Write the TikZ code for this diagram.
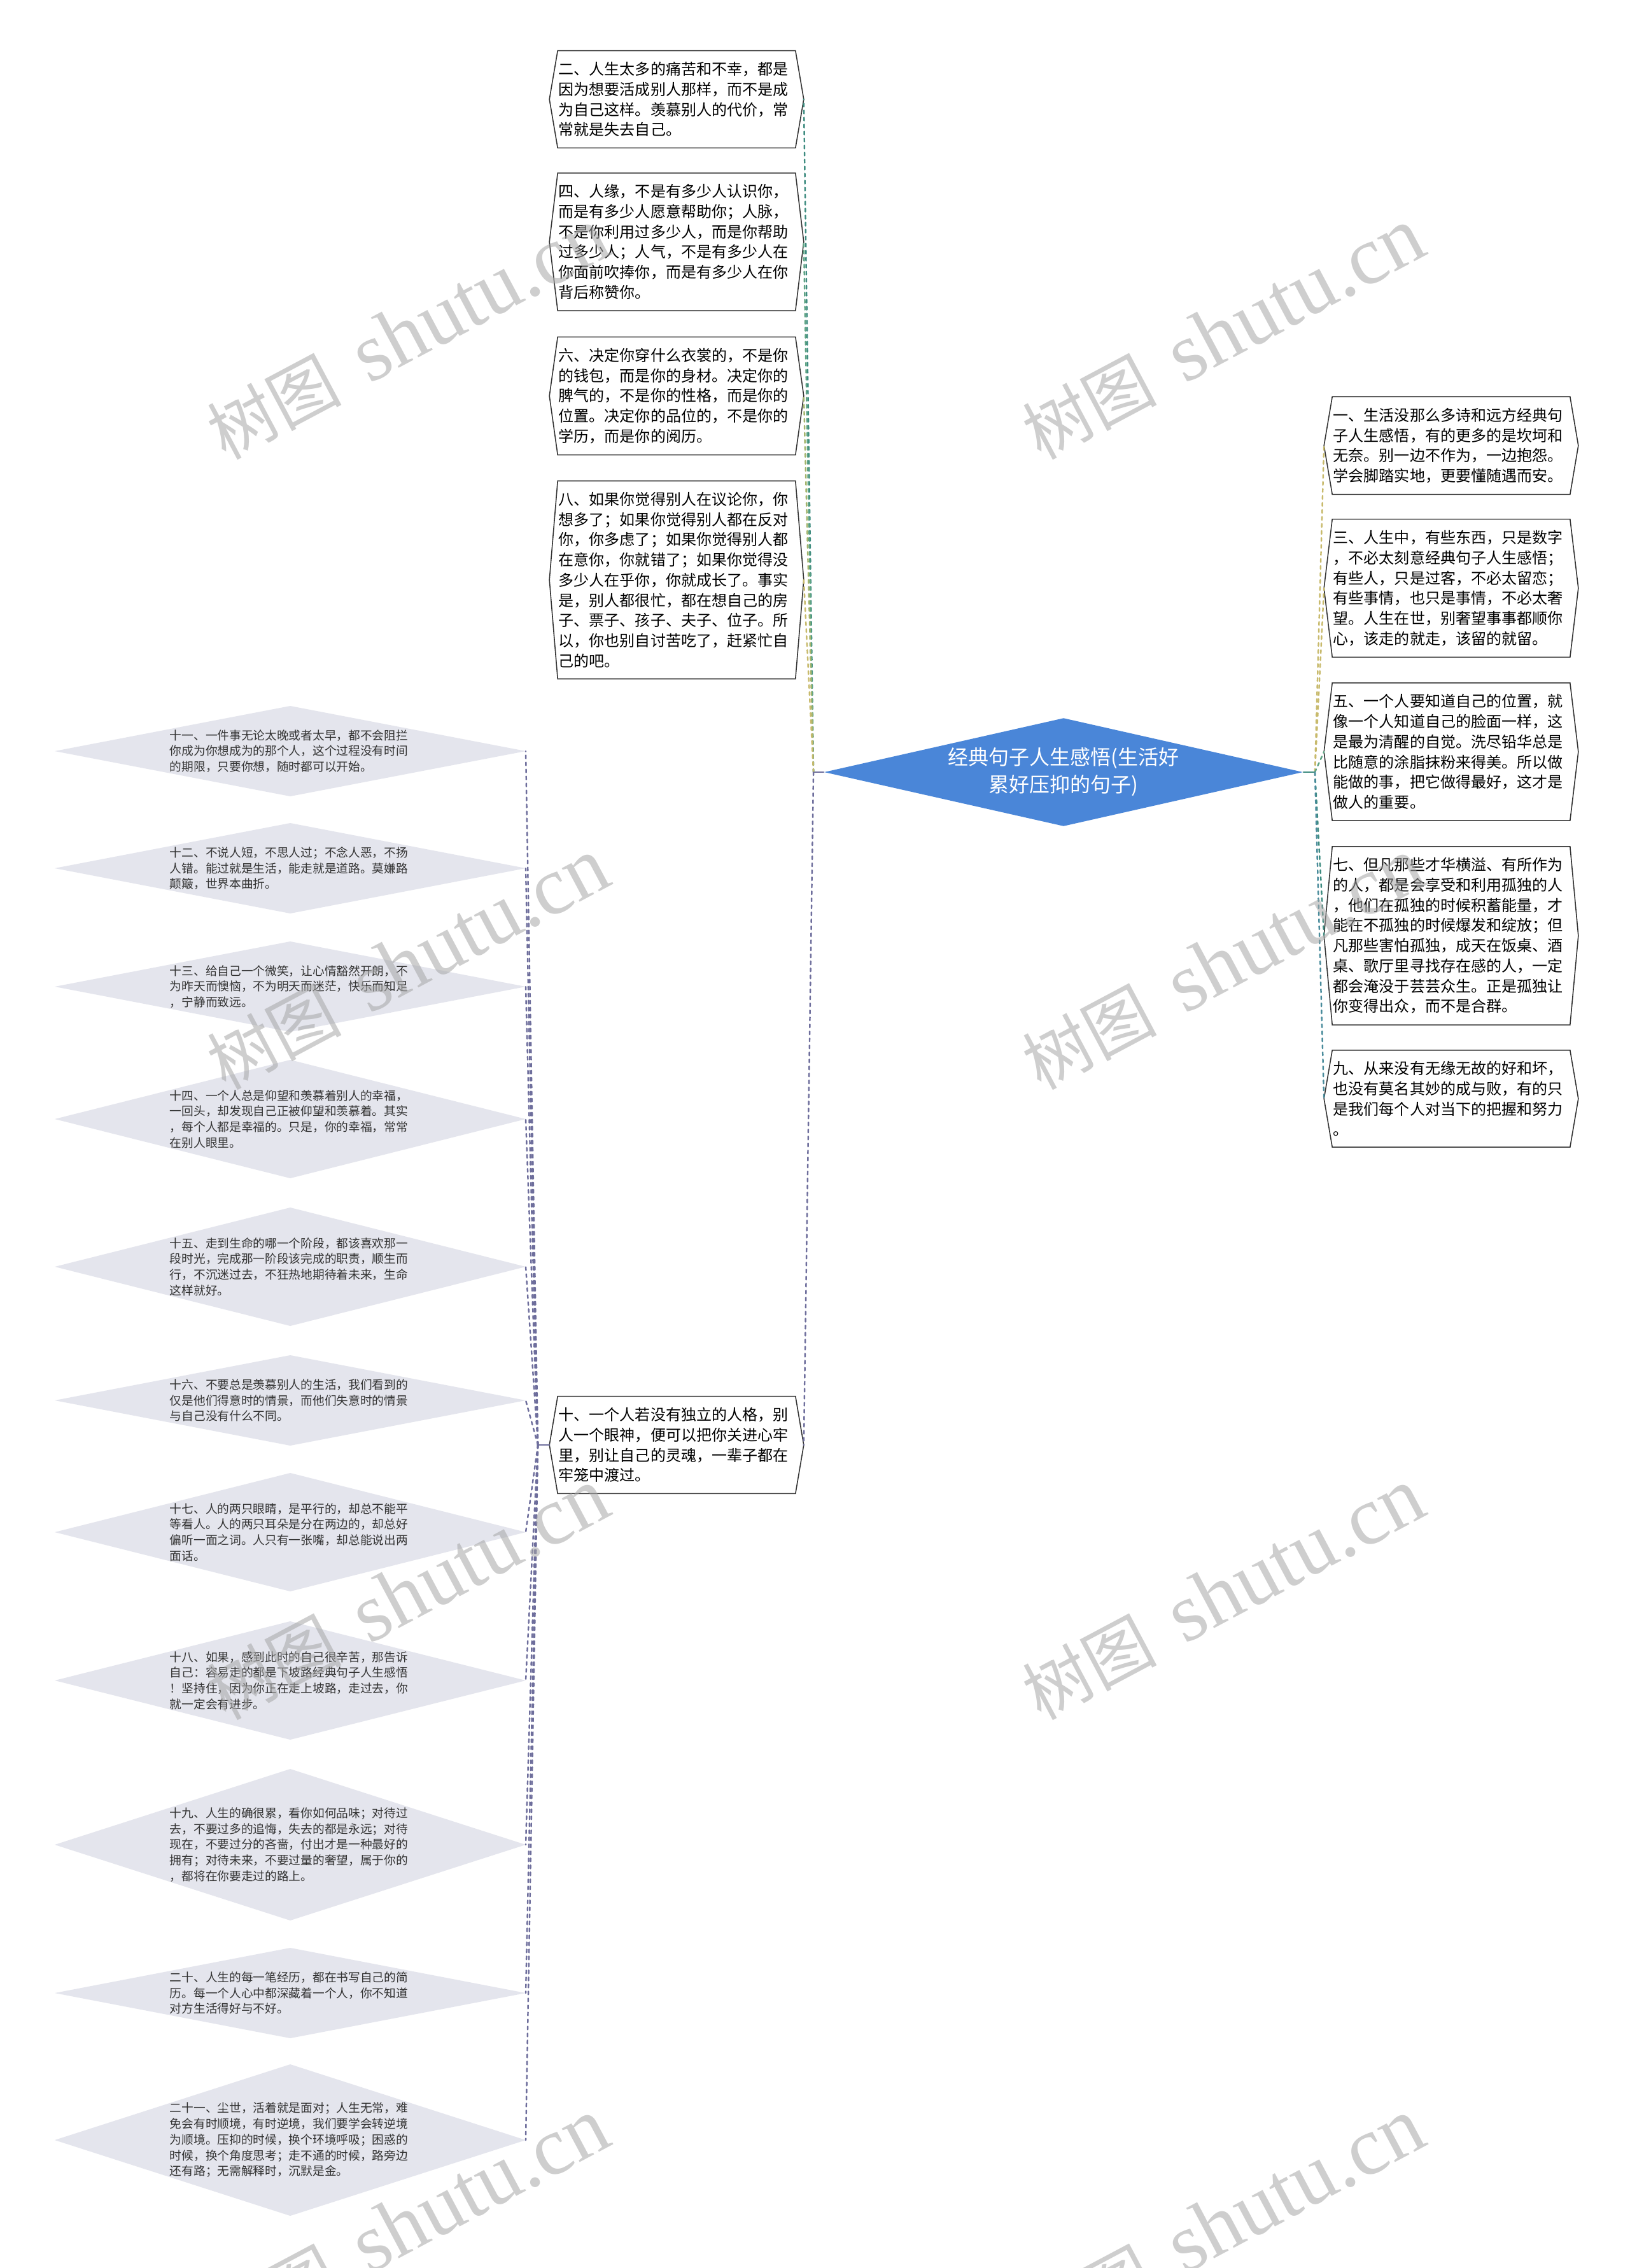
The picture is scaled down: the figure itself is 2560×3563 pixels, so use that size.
\documentclass[tikz,border=0pt]{standalone}
\usepackage{fontspec}
\setmainfont{Noto Sans CJK SC}
\newfontfamily\markserif{Liberation Serif}
\usepackage{tikz}
\usetikzlibrary{calc,shapes.geometric,backgrounds}
\usepackage{xcolor}

\definecolor{rootblue}{HTML}{4A86D8}
\definecolor{leafgray}{HTML}{E4E5ED}
\definecolor{cardedge}{HTML}{333333}
\definecolor{leafink}{HTML}{333333}
\definecolor{lnkpurple}{HTML}{6E6E9C}
\definecolor{lnkteal}{HTML}{3E8C80}
\definecolor{lnkgreen}{HTML}{5FA484}
\definecolor{lnklime}{HTML}{A4B46C}
\definecolor{lnkolive}{HTML}{C8BA6C}
\definecolor{lnkblue}{HTML}{4A8C9C}

\newcommand{\cardshape}[1]{%
  \coordinate (#1-l) at ([xshift=-0.13cm]#1.west);
  \coordinate (#1-r) at ([xshift=0.13cm]#1.east);
  \begin{pgfonlayer}{background}
    \filldraw[cardline] (#1.north west) -- (#1.north east) -- (#1-r) -- (#1.south east) -- (#1.south west) -- (#1-l) -- cycle;
  \end{pgfonlayer}}

\newcommand{\leafshape}[2]{%
  \coordinate (#1-l) at (#1.center -| leafleft);
  \coordinate (#1-r) at (#1.center -| leafright);
  \begin{pgfonlayer}{background}
    \fill[leafgray] (#1-l) -- ($(#1.center)+(0,-#2)$) -- (#1-r) -- ($(#1.center)+(0,#2)$) -- cycle;
  \end{pgfonlayer}}

\newcommand{\shutumark}{{\fontsize{30pt}{30pt}\selectfont 树图}\hspace{0.45cm}{\markserif\fontsize{37pt}{37pt}\selectfont shutu.cn}}

\begin{document}
\begin{tikzpicture}[x=0.01cm,y=-0.01cm,line cap=round,
  rootdia/.style={diamond,fill=rootblue,text=white,align=center,inner sep=0pt,aspect=4.4,
    minimum width=7.52cm,minimum height=1.7cm,font=\fontsize{9.1pt}{12.2pt}\selectfont},
  cardbox/.style={text width=3.70cm,align=left,inner xsep=0.01cm,inner ysep=0.17cm,
    font=\fontsize{6.83pt}{9.02pt}\selectfont},
  cardline/.style={draw=cardedge,fill=white,line width=0.45pt},
  leafbox/.style={text width=3.78cm,align=left,inner sep=0pt,text=leafink,
    font=\fontsize{5.32pt}{7.03pt}\selectfont},
  dashlink/.style={dash pattern=on 0.05cm off 0.06cm,line width=0.7pt},
  stub/.style={line width=0.7pt},
  wmark/.style={rotate=28,text=gray!70,text opacity=0.55,inner sep=0pt}]
\begin{pgfonlayer}{background}
\fill[white] (0,0) rectangle (2560,3563);
\end{pgfonlayer}
\useasboundingbox (0,0) rectangle (2560,3563);
\coordinate (leafleft) at (86,0);
\coordinate (leafright) at (826,0);

\node[rootdia] (root) at (1671,1213) {经典句子人生感悟(生活好\\累好压抑的句子)};

% left column
\node[cardbox] (c2) at (1063,156) {二、人生太多的痛苦和不幸，都是\\因为想要活成别人那样，而不是成\\为自己这样。羡慕别人的代价，常\\常就是失去自己。};
\cardshape{c2}
\node[cardbox] (c4) at (1063,380) {四、人缘，不是有多少人认识你，\\而是有多少人愿意帮助你；人脉，\\不是你利用过多少人，而是你帮助\\过多少人；人气，不是有多少人在\\你面前吹捧你，而是有多少人在你\\背后称赞你。};
\cardshape{c4}
\node[cardbox] (c6) at (1063,622) {六、决定你穿什么衣裳的，不是你\\的钱包，而是你的身材。决定你的\\脾气的，不是你的性格，而是你的\\位置。决定你的品位的，不是你的\\学历，而是你的阅历。};
\cardshape{c6}
\node[cardbox] (c8) at (1063,911) {八、如果你觉得别人在议论你，你\\想多了；如果你觉得别人都在反对\\你，你多虑了；如果你觉得别人都\\在意你，你就错了；如果你觉得没\\多少人在乎你，你就成长了。事实\\是，别人都很忙，都在想自己的房\\子、票子、孩子、夫子、位子。所\\以，你也别自讨苦吃了，赶紧忙自\\己的吧。};
\cardshape{c8}
\node[cardbox] (c10) at (1063,2270) {十、一个人若没有独立的人格，别\\人一个眼神，便可以把你关进心牢\\里，别让自己的灵魂，一辈子都在\\牢笼中渡过。};
\cardshape{c10}

% right column
\node[cardbox] (c1) at (2280,700) {一、生活没那么多诗和远方经典句\\子人生感悟，有的更多的是坎坷和\\无奈。别一边不作为，一边抱怨。\\学会脚踏实地，更要懂随遇而安。};
\cardshape{c1}
\node[cardbox] (c3) at (2280,924) {三、人生中，有些东西，只是数字\\，不必太刻意经典句子人生感悟；\\有些人，只是过客，不必太留恋；\\有些事情，也只是事情，不必太奢\\望。人生在世，别奢望事事都顺你\\心，该走的就走，该留的就留。};
\cardshape{c3}
\node[cardbox] (c5) at (2280,1181) {五、一个人要知道自己的位置，就\\像一个人知道自己的脸面一样，这\\是最为清醒的自觉。洗尽铅华总是\\比随意的涂脂抹粉来得美。所以做\\能做的事，把它做得最好，这才是\\做人的重要。};
\cardshape{c5}
\node[cardbox] (c7) at (2280,1470) {七、但凡那些才华横溢、有所作为\\的人，都是会享受和利用孤独的人\\，他们在孤独的时候积蓄能量，才\\能在不孤独的时候爆发和绽放；但\\凡那些害怕孤独，成天在饭桌、酒\\桌、歌厅里寻找存在感的人，一定\\都会淹没于芸芸众生。正是孤独让\\你变得出众，而不是合群。};
\cardshape{c7}
\node[cardbox] (c9) at (2280,1726) {九、从来没有无缘无故的好和坏，\\也没有莫名其妙的成与败，有的只\\是我们每个人对当下的把握和努力\\。};
\cardshape{c9}

% leaves under ten
\node[leafbox] (l11) at (456,1180) {十一、一件事无论太晚或者太早，都不会阻拦\\你成为你想成为的那个人，这个过程没有时间\\的期限，只要你想，随时都可以开始。};
\leafshape{l11}{71}
\node[leafbox] (l12) at (456,1364) {十二、不说人短，不思人过；不念人恶，不扬\\人错。能过就是生活，能走就是道路。莫嫌路\\颠簸，世界本曲折。};
\leafshape{l12}{71}
\node[leafbox] (l13) at (456,1550) {十三、给自己一个微笑，让心情豁然开朗，不\\为昨天而懊恼，不为明天而迷茫，快乐而知足\\，宁静而致远。};
\leafshape{l13}{71}
\node[leafbox] (l14) at (456,1758) {十四、一个人总是仰望和羡慕着别人的幸福，\\一回头，却发现自己正被仰望和羡慕着。其实\\，每个人都是幸福的。只是，你的幸福，常常\\在别人眼里。};
\leafshape{l14}{93}
\node[leafbox] (l15) at (456,1990) {十五、走到生命的哪一个阶段，都该喜欢那一\\段时光，完成那一阶段该完成的职责，顺生而\\行，不沉迷过去，不狂热地期待着未来，生命\\这样就好。};
\leafshape{l15}{93}
\node[leafbox] (l16) at (456,2200) {十六、不要总是羡慕别人的生活，我们看到的\\仅是他们得意时的情景，而他们失意时的情景\\与自己没有什么不同。};
\leafshape{l16}{71}
\node[leafbox] (l17) at (456,2407) {十七、人的两只眼睛，是平行的，却总不能平\\等看人。人的两只耳朵是分在两边的，却总好\\偏听一面之词。人只有一张嘴，却总能说出两\\面话。};
\leafshape{l17}{93}
\node[leafbox] (l18) at (456,2640) {十八、如果，感到此时的自己很辛苦，那告诉\\自己：容易走的都是下坡路经典句子人生感悟\\！坚持住，因为你正在走上坡路，走过去，你\\就一定会有进步。};
\leafshape{l18}{93}
\node[leafbox] (l19) at (456,2898) {十九、人生的确很累，看你如何品味；对待过\\去，不要过多的追悔，失去的都是永远；对待\\现在，不要过分的吝啬，付出才是一种最好的\\拥有；对待未来，不要过量的奢望，属于你的\\，都将在你要走过的路上。};
\leafshape{l19}{119}
\node[leafbox] (l20) at (456,3131) {二十、人生的每一笔经历，都在书写自己的简\\历。每一个人心中都深藏着一个人，你不知道\\对方生活得好与不好。};
\leafshape{l20}{71}
\node[leafbox] (l21) at (456,3362) {二十一、尘世，活着就是面对；人生无常，难\\免会有时顺境，有时逆境，我们要学会转逆境\\为顺境。压抑的时候，换个环境呼吸；困惑的\\时候，换个角度思考；走不通的时候，路旁边\\还有路；无需解释时，沉默是金。};
\leafshape{l21}{119}

% connectors
\coordinate (rootL) at ([xshift=-0.16cm]root.west);
\coordinate (rootR) at ([xshift=0.18cm]root.east);
\coordinate (tenL) at ([xshift=-0.18cm]c10-l);
\draw[stub,lnkpurple] (root.west) -- (rootL);
\draw[dashlink,lnkteal] (rootL) -- (c2-r);
\draw[dashlink,lnkgreen] (rootL) -- (c4-r);
\draw[dashlink,lnklime] (rootL) -- (c6-r);
\draw[dashlink,lnkolive] (rootL) -- (c8-r);
\draw[dashlink,lnkpurple] (rootL) -- (c10-r);
\draw[stub,lnkteal] (root.east) -- (rootR);
\draw[dashlink,lnkolive] (rootR) -- (c1-l);
\draw[dashlink,lnkolive] (rootR) -- (c3-l);
\draw[dashlink,lnkgreen] (rootR) -- (c5-l);
\draw[dashlink,lnkteal] (rootR) -- (c7-l);
\draw[dashlink,lnkblue] (rootR) -- (c9-l);
\draw[stub,lnkpurple] (c10-l) -- (tenL);
\draw[dashlink,lnkpurple] (tenL) -- (l11-r);
\draw[dashlink,lnkpurple] (tenL) -- (l12-r);
\draw[dashlink,lnkpurple] (tenL) -- (l13-r);
\draw[dashlink,lnkpurple] (tenL) -- (l14-r);
\draw[dashlink,lnkpurple] (tenL) -- (l15-r);
\draw[dashlink,lnkpurple] (tenL) -- (l16-r);
\draw[dashlink,lnkpurple] (tenL) -- (l17-r);
\draw[dashlink,lnkpurple] (tenL) -- (l18-r);
\draw[dashlink,lnkpurple] (tenL) -- (l19-r);
\draw[dashlink,lnkpurple] (tenL) -- (l20-r);
\draw[dashlink,lnkpurple] (tenL) -- (l21-r);

% watermark
\node[wmark] (wm1) at (641,525) {\shutumark};
\node[wmark] (wm2) at (1922,525) {\shutumark};
\node[wmark] (wm3) at (641,1515) {\shutumark};
\node[wmark] (wm4) at (1922,1515) {\shutumark};
\node[wmark] (wm5) at (641,2505) {\shutumark};
\node[wmark] (wm6) at (1922,2505) {\shutumark};
\node[wmark] (wm7) at (641,3495) {\shutumark};
\node[wmark] (wm8) at (1922,3495) {\shutumark};
\end{tikzpicture}
\end{document}
